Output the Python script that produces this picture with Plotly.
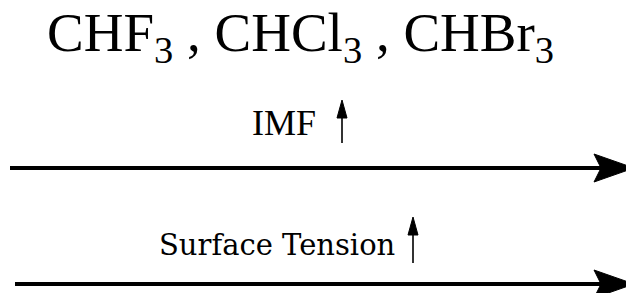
import plotly.graph_objects as go

# Diagram content
title_parts = ["CHF<sub>3</sub>", "CHCl<sub>3</sub>", "CHBr<sub>3</sub>"]
trend_labels = ["IMF", "Surface Tension"]
trend_fonts = ["Liberation Serif", "DejaVu Serif"]

W, H = 634, 293
OFF = 8  # page body margin compensation
fig = go.Figure()

# title
fig.add_annotation(x=300, y=36, xref="x", yref="y", text=" , ".join(title_parts),
                   showarrow=False, font=dict(family="Liberation Serif", size=55, color="black"),
                   xanchor="center", yanchor="middle")

label_pos = [(284, 123, 342, 100, 143, 168, 10), (277, 245, 413, 217, 263, 284, 15)]
label_sizes = [36, 29]
for lab, fam, sz, (lx, ly, ax, atop, abot, liney, x0) in zip(trend_labels, trend_fonts, label_sizes, label_pos):
    fig.add_annotation(x=lx, y=ly, xref="x", yref="y", text=lab, showarrow=False,
                       font=dict(family=fam, size=sz, color="black"),
                       xanchor="center", yanchor="middle")
    # small up arrow
    fig.add_shape(type="line", x0=ax, x1=ax, y0=abot, y1=atop + 12, xref="x", yref="y",
                  line=dict(color="#333333", width=2))
    fig.add_shape(type="path", path=f"M {ax-5} {atop+18} L {ax} {atop} L {ax+5} {atop+18} Z",
                  xref="x", yref="y", fillcolor="black", line=dict(color="black", width=1))
    # long horizontal arrow
    fig.add_shape(type="line", x0=x0, x1=605, y0=liney, y1=liney, xref="x", yref="y",
                  line=dict(color="black", width=4))
    fig.add_shape(type="path",
                  path=f"M 594 {liney-14} L 634 {liney} L 594 {liney+14} L 601 {liney} Z",
                  xref="x", yref="y", fillcolor="black", line=dict(color="black", width=1))

fig.update_xaxes(range=[OFF, W + OFF], visible=False, fixedrange=True)
fig.update_yaxes(range=[H + OFF, OFF], visible=False, fixedrange=True)
fig.update_layout(width=W, height=H, margin=dict(l=0, r=0, t=0, b=0),
                  plot_bgcolor="white", paper_bgcolor="white", showlegend=False)
fig.write_html("out.html")
